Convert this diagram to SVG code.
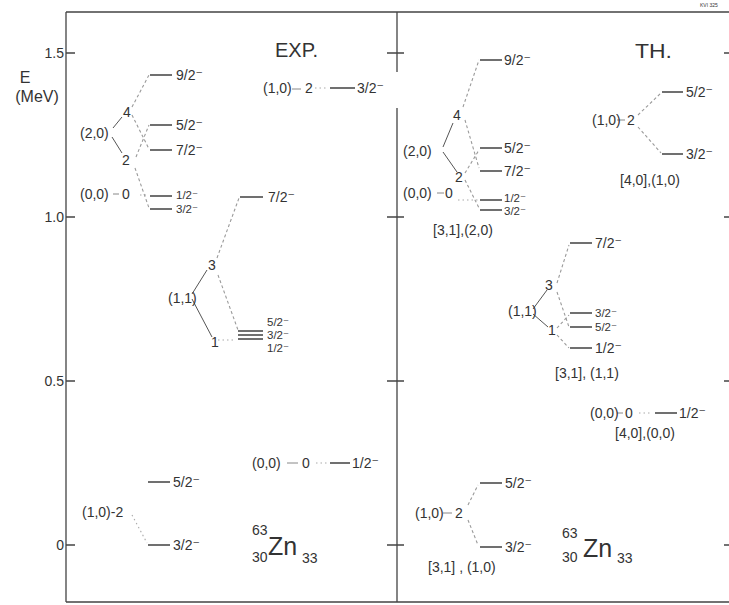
<svg xmlns="http://www.w3.org/2000/svg" width="729" height="605" viewBox="0 0 729 605">
<style>
.t{font-family:"Liberation Sans",Arial,"DejaVu Sans",sans-serif;font-size:14px;fill:#333}
.sm{font-size:11.5px}
.big{font-size:21px}
.zn{font-size:25px}
.ax{font-size:14px}
.fr{stroke:#444;stroke-width:1.3;fill:none}
.lv{stroke:#333;stroke-width:1.4}
.br{stroke:#555;stroke-width:1}
.ds{stroke:#9a9a9a;stroke-width:1.1;stroke-dasharray:3 2.5}
.dt{stroke:#aaa;stroke-width:1.1;stroke-dasharray:1.5 3}
.sd{stroke:#888;stroke-width:1}
</style>
<rect width="729" height="605" fill="#fff"/>
<g id="frame">
<path class="fr" d="M66,12V602M66,12H729M66,602H729M397,12V72M397,108V602"/>
<path class="fr" d="M66,53H75M66,217H75M66,381H75M66,545H75M387,53H404M387,217H404M387,381H404M387,545H404M724,53H729M724,217H729M724,381H729M724,545H729"/>
<text class="t ax" x="64" y="58" text-anchor="end">1.5</text>
<text class="t ax" x="64" y="222" text-anchor="end">1.0</text>
<text class="t ax" x="64" y="386" text-anchor="end">0.5</text>
<text class="t ax" x="64" y="550" text-anchor="end">0</text>
<text class="t" x="25" y="83" text-anchor="middle" style="font-size:16px">E</text>
<text class="t" x="37" y="102" text-anchor="middle" style="font-size:16px">(MeV)</text>
<text class="t" x="700" y="7" style="font-size:5px">KVI 325</text>
<text class="t big" x="275" y="57" textLength="43" lengthAdjust="spacingAndGlyphs">EXP.</text>
<text class="t big" x="635" y="58" textLength="37" lengthAdjust="spacingAndGlyphs">TH.</text>
</g>
<g id="connectors">
<line class="br" x1="113" y1="128" x2="122" y2="117"/>
<line class="br" x1="112" y1="137" x2="122" y2="153"/>
<line class="ds" x1="132" y1="107" x2="149" y2="75"/>
<line class="ds" x1="132" y1="115" x2="149" y2="149"/>
<line class="ds" x1="136" y1="157" x2="149" y2="125"/>
<line class="ds" x1="135" y1="168" x2="149" y2="208"/>
<line class="sd" x1="113" y1="194" x2="119" y2="194"/>
<line class="dt" x1="140" y1="195" x2="149" y2="195"/>
<line class="sd" x1="292" y1="89" x2="301" y2="89"/>
<line class="dt" x1="315" y1="88" x2="328" y2="88"/>
<line class="br" x1="192" y1="294" x2="207" y2="270"/>
<line class="br" x1="192" y1="299" x2="212" y2="337"/>
<line class="ds" x1="217" y1="258" x2="239" y2="198"/>
<line class="ds" x1="218" y1="275" x2="238" y2="330"/>
<line class="dt" x1="218" y1="340" x2="236" y2="340"/>
<line class="dt" x1="132" y1="515" x2="147" y2="543"/>
<line class="sd" x1="287" y1="463" x2="298" y2="463"/>
<line class="dt" x1="316" y1="463" x2="327" y2="463"/>
<line class="br" x1="443" y1="147" x2="453" y2="123"/>
<line class="br" x1="443" y1="152" x2="457" y2="172"/>
<line class="ds" x1="463" y1="107" x2="479" y2="60"/>
<line class="ds" x1="465" y1="120" x2="479" y2="168"/>
<line class="ds" x1="465" y1="173" x2="479" y2="150"/>
<line class="ds" x1="465" y1="180" x2="479" y2="208"/>
<line class="sd" x1="437" y1="193" x2="444" y2="193"/>
<line class="dt" x1="458" y1="200" x2="478" y2="200"/>
<line class="sd" x1="617" y1="120" x2="625" y2="120"/>
<line class="ds" x1="638" y1="115" x2="661" y2="93"/>
<line class="ds" x1="638" y1="127" x2="661" y2="153"/>
<line class="br" x1="533" y1="309" x2="547" y2="290"/>
<line class="br" x1="533" y1="314" x2="548" y2="327"/>
<line class="ds" x1="557" y1="283" x2="569" y2="245"/>
<line class="ds" x1="557" y1="292" x2="569" y2="327"/>
<line class="ds" x1="557" y1="328" x2="569" y2="315"/>
<line class="ds" x1="557" y1="335" x2="569" y2="348"/>
<line class="sd" x1="617" y1="413" x2="623" y2="413"/>
<line class="dt" x1="639" y1="413" x2="650" y2="413"/>
<line class="sd" x1="443" y1="513" x2="452" y2="513"/>
<line class="ds" x1="468" y1="505" x2="478" y2="485"/>
<line class="ds" x1="468" y1="520" x2="478" y2="545"/>
</g>
<g id="exp-20">
<text class="t" x="80" y="138">(2,0)</text>
<text class="t" x="123" y="117">4</text>
<text class="t" x="122" y="165">2</text>
<line class="lv" x1="150" y1="75" x2="172" y2="75"/><text class="t" x="176" y="80">9/2⁻</text>
<line class="lv" x1="150" y1="125" x2="172" y2="125"/><text class="t" x="176" y="130">5/2⁻</text>
<line class="lv" x1="150" y1="150" x2="172" y2="150"/><text class="t" x="176" y="155">7/2⁻</text>
</g>
<g id="exp-00a">
<text class="t" x="80" y="199">(0,0)</text>
<text class="t" x="122" y="199">0</text>
<line class="lv" x1="150" y1="196" x2="172" y2="196"/><text class="t sm" x="176" y="199">1/2⁻</text>
<line class="lv" x1="150" y1="209" x2="172" y2="209"/><text class="t sm" x="176" y="213">3/2⁻</text>
</g>
<g id="exp-10a">
<text class="t" x="263" y="93">(1,0)</text>
<text class="t" x="305" y="93">2</text>
<line class="lv" x1="330" y1="88" x2="355" y2="88"/><text class="t" x="357" y="93">3/2⁻</text>
</g>
<g id="exp-11">
<text class="t" x="168" y="303">(1,1)</text>
<text class="t" x="208" y="270">3</text>
<text class="t" x="211" y="347">1</text>
<line class="lv" x1="240" y1="197" x2="263" y2="197"/><text class="t" x="268" y="202">7/2⁻</text>
<line class="lv" x1="238" y1="331" x2="263" y2="331"/>
<line class="lv" x1="238" y1="335" x2="263" y2="335"/>
<line class="lv" x1="238" y1="339" x2="263" y2="339"/>
<text class="t sm" x="267" y="326">5/2⁻</text>
<text class="t sm" x="267" y="339">3/2⁻</text>
<text class="t sm" x="267" y="352">1/2⁻</text>
</g>
<g id="exp-10b">
<text class="t" x="82" y="517">(1,0)-2</text>
<line class="lv" x1="148" y1="482" x2="170" y2="482"/><text class="t" x="173" y="487">5/2⁻</text>
<line class="lv" x1="148" y1="545" x2="170" y2="545"/><text class="t" x="173" y="550">3/2⁻</text>
</g>
<g id="exp-00b">
<text class="t" x="252" y="468">(0,0)</text>
<text class="t" x="302" y="468">0</text>
<line class="lv" x1="330" y1="463" x2="350" y2="463"/><text class="t" x="352" y="468">1/2⁻</text>
</g>
<g id="exp-nucleus">
<text class="t" x="252" y="535">63</text>
<text class="t" x="252" y="562">30</text>
<text class="t zn" x="268" y="555">Zn</text>
<text class="t" x="302" y="563">33</text>
</g>
<g id="th-20">
<text class="t" x="403" y="156">(2,0)</text>
<text class="t" x="453" y="120">4</text>
<text class="t" x="455" y="182">2</text>
<line class="lv" x1="480" y1="60" x2="502" y2="60"/><text class="t" x="504" y="65">9/2⁻</text>
<line class="lv" x1="480" y1="148" x2="502" y2="148"/><text class="t" x="504" y="153">5/2⁻</text>
<line class="lv" x1="480" y1="171" x2="502" y2="171"/><text class="t" x="504" y="176">7/2⁻</text>
<text class="t" x="403" y="198">(0,0)</text>
<text class="t" x="445" y="198">0</text>
<line class="lv" x1="480" y1="200" x2="502" y2="200"/><text class="t sm" x="504" y="202">1/2⁻</text>
<line class="lv" x1="480" y1="210" x2="502" y2="210"/><text class="t sm" x="504" y="215">3/2⁻</text>
<text class="t" x="433" y="235">[3,1],(2,0)</text>
</g>
<g id="th-10a">
<text class="t" x="592" y="125">(1,0)</text>
<text class="t" x="627" y="125">2</text>
<line class="lv" x1="662" y1="92" x2="683" y2="92"/><text class="t" x="686" y="97">5/2⁻</text>
<line class="lv" x1="662" y1="154" x2="683" y2="154"/><text class="t" x="686" y="159">3/2⁻</text>
<text class="t" x="620" y="185">[4,0],(1,0)</text>
</g>
<g id="th-11">
<text class="t" x="508" y="316">(1,1)</text>
<text class="t" x="545" y="290">3</text>
<text class="t" x="548" y="335">1</text>
<line class="lv" x1="570" y1="243" x2="592" y2="243"/><text class="t" x="595" y="248">7/2⁻</text>
<line class="lv" x1="570" y1="313" x2="592" y2="313"/><text class="t sm" x="595" y="317">3/2⁻</text>
<line class="lv" x1="570" y1="327" x2="592" y2="327"/><text class="t sm" x="595" y="331">5/2⁻</text>
<line class="lv" x1="570" y1="348" x2="592" y2="348"/><text class="t" x="595" y="353">1/2⁻</text>
<text class="t" x="555" y="378">[3,1], (1,1)</text>
</g>
<g id="th-00">
<text class="t" x="590" y="418">(0,0)</text>
<text class="t" x="625" y="418">0</text>
<line class="lv" x1="655" y1="413" x2="677" y2="413"/><text class="t" x="679" y="418">1/2⁻</text>
<text class="t" x="615" y="438">[4,0],(0,0)</text>
</g>
<g id="th-10b">
<text class="t" x="415" y="518">(1,0)</text>
<text class="t" x="455" y="518">2</text>
<line class="lv" x1="480" y1="483" x2="502" y2="483"/><text class="t" x="505" y="488">5/2⁻</text>
<line class="lv" x1="480" y1="547" x2="502" y2="547"/><text class="t" x="505" y="552">3/2⁻</text>
<text class="t" x="428" y="572">[3,1] , (1,0)</text>
</g>
<g id="th-nucleus">
<text class="t" x="562" y="538">63</text>
<text class="t" x="562" y="562">30</text>
<text class="t zn" x="583" y="557">Zn</text>
<text class="t" x="617" y="563">33</text>
</g>
</svg>
